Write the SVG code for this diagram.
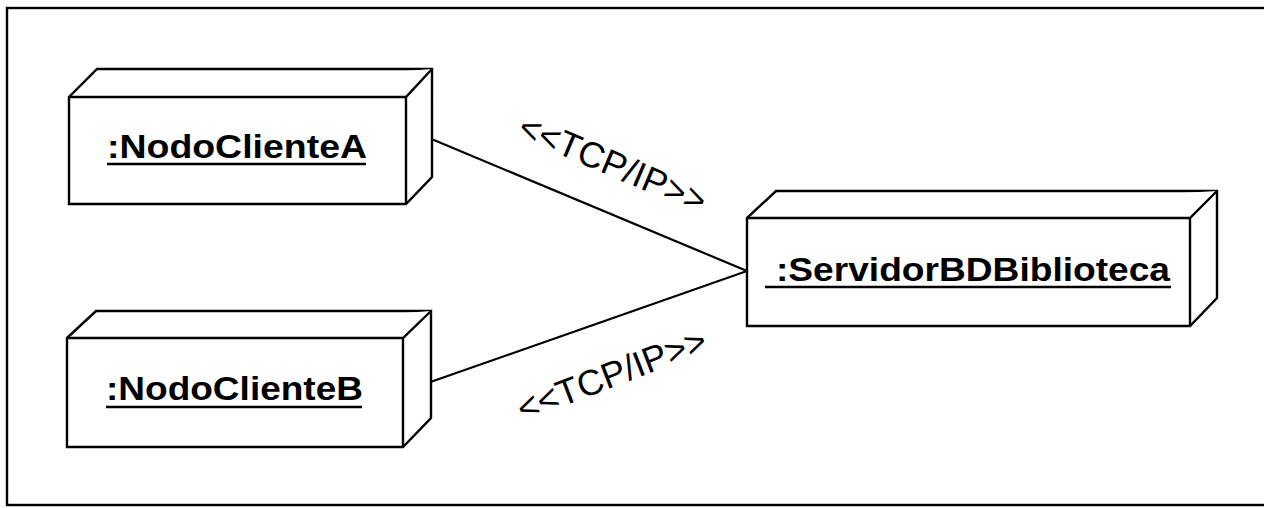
<svg xmlns="http://www.w3.org/2000/svg" width="1264" height="508" viewBox="0 0 1264 508">
<style>
.box{fill:#fff;stroke:#000;stroke-width:2.4;stroke-linejoin:miter}
.ln{stroke:#000;stroke-width:2.2;fill:none}
.nt{font-family:"Liberation Sans",Arial,sans-serif;font-weight:bold;font-size:33px;fill:#000}
.lb{font-family:"Liberation Sans",Arial,sans-serif;font-size:36px;fill:#000}
.ul{stroke:#000;stroke-width:2.4}
</style>
<rect x="0" y="0" width="1264" height="508" fill="#fff"/>
<rect id="frame" x="7" y="8" width="1262" height="497" fill="none" stroke="#000" stroke-width="2.4"/>
<g id="connectors">
<line class="ln" x1="416" y1="132.5" x2="747" y2="271"/>
<line class="ln" x1="419" y1="386" x2="747" y2="271"/>
<text class="lb" x="608" y="175" text-anchor="middle" textLength="200" lengthAdjust="spacingAndGlyphs" transform="rotate(23 608 175)">&lt;&lt;TCP/IP&gt;&gt;</text>
<text class="lb" x="616" y="386" text-anchor="middle" textLength="200" lengthAdjust="spacingAndGlyphs" transform="rotate(-21 616 386)">&lt;&lt;TCP/IP&gt;&gt;</text>
</g>
<g id="nodoA">
<path class="box" d="M69,97 L97,69 L432,69 L432,177 L406,204 L69,204 Z"/>
<path class="box" d="M69,97 L406,97 L432,69 M406,97 L406,204"/>
<text class="nt" x="107" y="158" textLength="260" lengthAdjust="spacingAndGlyphs">:NodoClienteA</text>
<line class="ul" x1="107" y1="164" x2="366" y2="164"/>
</g>
<g id="nodoB">
<path class="box" d="M67,338 L96,311 L431,311 L431,418 L403,447 L67,447 Z"/>
<path class="box" d="M67,338 L403,338 L431,311 M403,338 L403,447"/>
<text class="nt" x="106" y="400" textLength="257" lengthAdjust="spacingAndGlyphs">:NodoClienteB</text>
<line class="ul" x1="106" y1="407" x2="362" y2="407"/>
</g>
<g id="servidor">
<path class="box" d="M747,218 L776,191 L1217,191 L1217,298 L1190,326 L747,326 Z"/>
<path class="box" d="M747,218 L1190,218 L1217,191 M1190,218 L1190,326"/>
<text class="nt" x="776" y="281" textLength="394" lengthAdjust="spacingAndGlyphs">:ServidorBDBiblioteca</text>
<line class="ul" x1="765" y1="287" x2="1171" y2="287"/>
</g>
</svg>
